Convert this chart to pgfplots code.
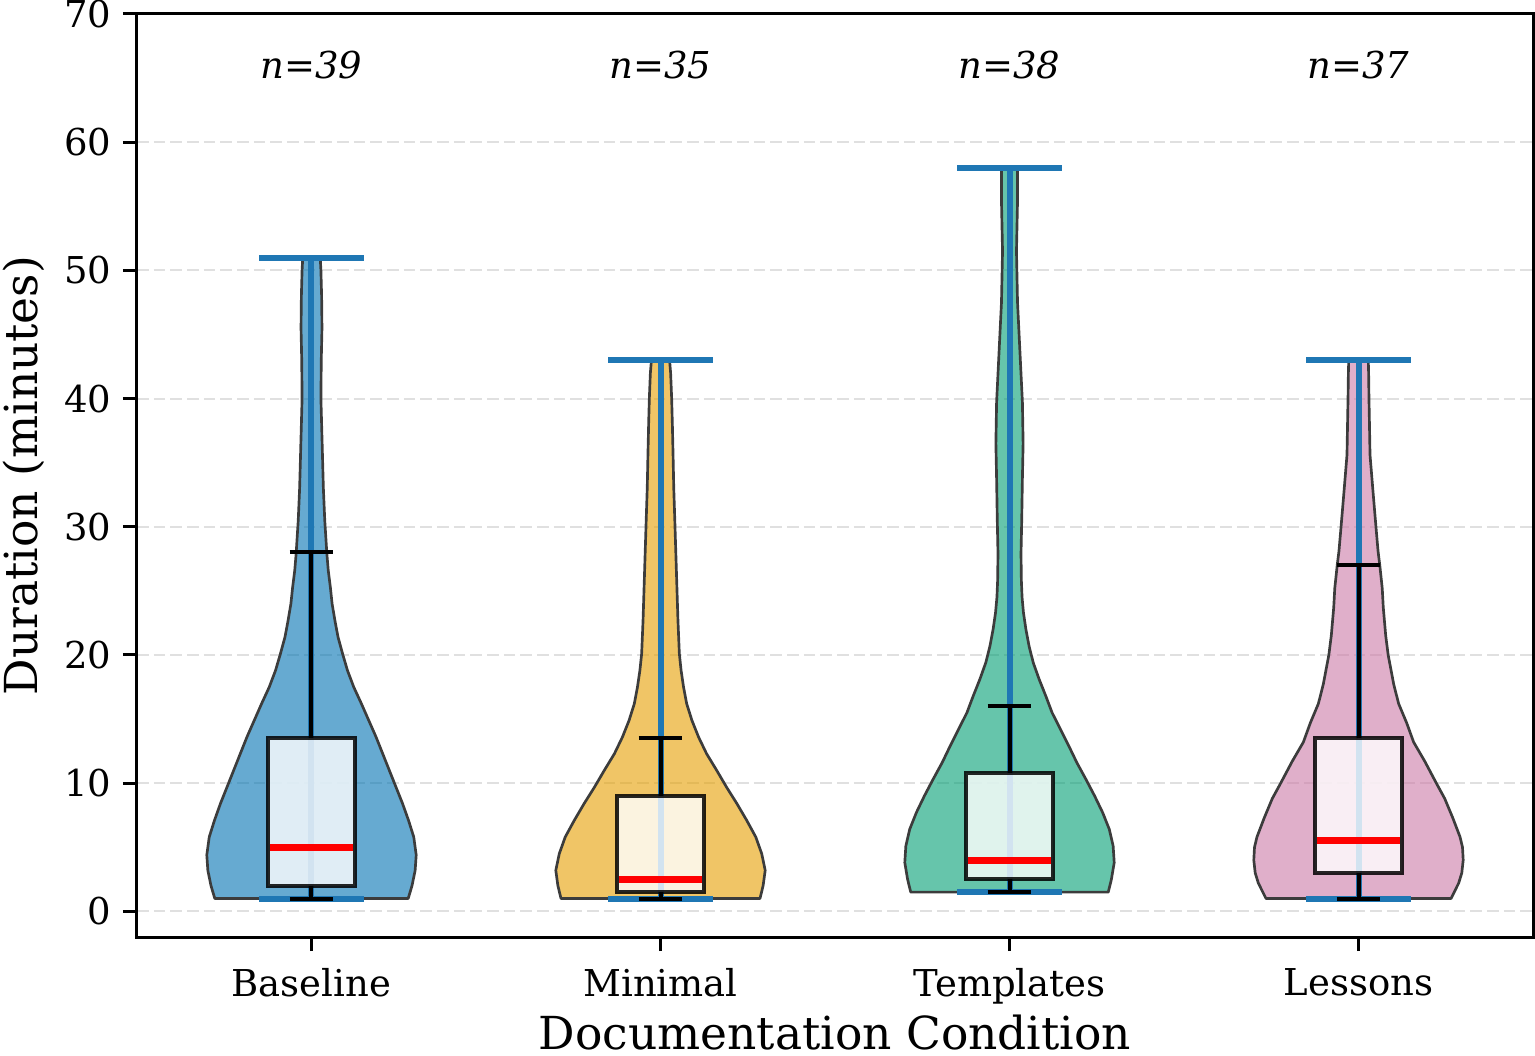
\documentclass[border=0pt]{standalone}
\usepackage{pgfplots}
\pgfplotsset{compat=1.18}
\usepackage{pgfplotstable}
\usepackage{fontspec}
\setmainfont{DejaVu Serif}

\definecolor{cBase}{HTML}{0072B2}
\definecolor{cMin}{HTML}{E69F00}
\definecolor{cTpl}{HTML}{009E73}
\definecolor{cLes}{HTML}{CC79A7}
\definecolor{tabblue}{HTML}{1F77B4}
\definecolor{gridgray}{RGB}{224,224,224}
\definecolor{edgegray}{RGB}{60,60,60}

% Violin half-width profiles (minutes, half width in category units);
% the first and last rows close each half on the centre line.
\pgfplotstableread{
y w
1.0 0
1.0 0.277
2.0 0.288
3.2 0.297
4.4 0.300
5.8 0.293
7.1 0.278
8.4 0.261
9.7 0.242
11.0 0.223
12.3 0.204
13.6 0.185
14.9 0.164
16.2 0.143
17.5 0.121
18.8 0.103
20.1 0.089
21.4 0.076
22.7 0.067
24.0 0.059
25.3 0.054
26.6 0.048
27.9 0.044
29.2 0.041
30.5 0.038
33.0 0.034
36.0 0.031
40.0 0.027
43.0 0.028
45.5 0.030
48.0 0.029
50.0 0.027
51.0 0.025
51.0 0
}\vBaseline

\pgfplotstableread{
y w
1.0 0
1.0 0.285
2.0 0.294
3.2 0.300
4.5 0.290
5.8 0.273
7.1 0.247
8.4 0.219
9.7 0.189
11.0 0.161
12.3 0.132
13.6 0.109
14.9 0.090
16.2 0.075
17.5 0.066
18.8 0.059
20.1 0.054
22.7 0.050
25.3 0.047
27.9 0.044
30.5 0.041
33.0 0.038
35.6 0.036
38.0 0.034
40.0 0.032
42.0 0.029
43.0 0.026
43.0 0
}\vMinimal

\pgfplotstableread{
y w
1.5 0
1.5 0.283
2.5 0.292
3.8 0.300
5.1 0.297
6.4 0.286
7.7 0.267
9.0 0.244
10.3 0.219
11.6 0.193
12.9 0.170
14.2 0.146
15.5 0.122
16.8 0.104
18.1 0.085
19.4 0.068
20.7 0.056
22.0 0.047
23.3 0.040
24.5 0.036
25.8 0.034
27.9 0.033
30.5 0.035
33.8 0.037
36.5 0.039
39.7 0.037
43.6 0.030
47.5 0.023
51.5 0.020
55.4 0.023
58.0 0.023
58.0 0
}\vTemplates

\pgfplotstableread{
y w
1.0 0
1.0 0.265
2.2 0.287
3.0 0.296
4.0 0.300
5.0 0.298
5.8 0.291
7.3 0.270
8.8 0.247
10.0 0.223
11.7 0.190
13.2 0.158
14.7 0.138
16.2 0.115
17.7 0.101
20.0 0.085
21.5 0.078
23.7 0.071
25.2 0.068
27.0 0.061
28.1 0.056
30.0 0.050
32.6 0.042
35.6 0.033
38.6 0.031
40.0 0.030
42.0 0.029
43.0 0.028
43.0 0
}\vLessons

\pgfplotsset{
  violin/.style={fill=#1, fill opacity=0.6, draw=edgegray, line width=0.8pt, line join=round},
  rangeline/.style={tabblue, line width=1.8pt},
  iqrbox/.style={fill=white, fill opacity=0.8, draw=black, draw opacity=0.85, line width=1.2pt},
  whisker/.style={black, line width=1.2pt},
  medianline/.style={red, line width=2.1pt},
}

\begin{document}
\begin{tikzpicture}
\begin{axis}[
  at={(0pt,0pt)}, anchor=south west,
  width=418.8pt, height=276.9pt, scale only axis,
  xmin=-0.5, xmax=3.5, ymin=-2, ymax=70,
  xtick={0,1,2,3},
  xticklabels={Baseline,Minimal,Templates,Lessons},
  ytick={0,10,...,70},
  tick pos=left,
  tick align=outside, major tick length=4.2pt,
  tick style={black, line width=0.9pt},
  axis line style={black, line width=0.9pt},
  ymajorgrids,
  grid style={gridgray, line width=0.6pt, dash pattern=on 3.5pt off 1.5pt},
  ticklabel style={font=\fontsize{11.1}{13}\selectfont},
  xticklabel style={yshift=-1.8pt},
  /pgf/number format/assume math mode=true,
  xlabel={Documentation Condition},
  ylabel={Duration (minutes)},
  label style={font=\fontsize{13.65}{16}\selectfont},
  xlabel style={at={([yshift=-33.6pt]axis description cs:0.5,0)}, anchor=base},
  ylabel style={at={([xshift=-29.7pt]axis description cs:0,0.5)}, anchor=base},
]

% --- Baseline ---
\addplot[violin=cBase] table[x expr=0+\thisrow{w}, y=y] {\vBaseline};
\addplot[violin=cBase] table[x expr=0-\thisrow{w}, y=y] {\vBaseline};
\addplot[rangeline] coordinates {(0,1) (0,51)};
\addplot[rangeline] coordinates {(-0.15,51) (0.15,51)};
\addplot[rangeline] coordinates {(-0.15,1) (0.15,1)};
\addplot[iqrbox] coordinates {(-0.125,2) (0.125,2) (0.125,13.5) (-0.125,13.5)} -- cycle;
\addplot[whisker] coordinates {(0,13.5) (0,28)};
\addplot[whisker] coordinates {(0,2) (0,1)};
\addplot[whisker] coordinates {(-0.0625,28) (0.0625,28)};
\addplot[whisker] coordinates {(-0.0625,1) (0.0625,1)};
\addplot[medianline] coordinates {(-0.12,5) (0.12,5)};

% --- Minimal ---
\addplot[violin=cMin] table[x expr=1+\thisrow{w}, y=y] {\vMinimal};
\addplot[violin=cMin] table[x expr=1-\thisrow{w}, y=y] {\vMinimal};
\addplot[rangeline] coordinates {(1,1) (1,43)};
\addplot[rangeline] coordinates {(0.85,43) (1.15,43)};
\addplot[rangeline] coordinates {(0.85,1) (1.15,1)};
\addplot[iqrbox] coordinates {(0.875,1.5) (1.125,1.5) (1.125,9) (0.875,9)} -- cycle;
\addplot[whisker] coordinates {(1,9) (1,13.5)};
\addplot[whisker] coordinates {(1,1.5) (1,1)};
\addplot[whisker] coordinates {(0.9375,13.5) (1.0625,13.5)};
\addplot[whisker] coordinates {(0.9375,1) (1.0625,1)};
\addplot[medianline] coordinates {(0.88,2.5) (1.12,2.5)};

% --- Templates ---
\addplot[violin=cTpl] table[x expr=2+\thisrow{w}, y=y] {\vTemplates};
\addplot[violin=cTpl] table[x expr=2-\thisrow{w}, y=y] {\vTemplates};
\addplot[rangeline] coordinates {(2,1.5) (2,58)};
\addplot[rangeline] coordinates {(1.85,58) (2.15,58)};
\addplot[rangeline] coordinates {(1.85,1.5) (2.15,1.5)};
\addplot[iqrbox] coordinates {(1.875,2.5) (2.125,2.5) (2.125,10.8) (1.875,10.8)} -- cycle;
\addplot[whisker] coordinates {(2,10.8) (2,16)};
\addplot[whisker] coordinates {(2,2.5) (2,1.5)};
\addplot[whisker] coordinates {(1.9375,16) (2.0625,16)};
\addplot[whisker] coordinates {(1.9375,1.5) (2.0625,1.5)};
\addplot[medianline] coordinates {(1.88,4) (2.12,4)};

% --- Lessons ---
\addplot[violin=cLes] table[x expr=3+\thisrow{w}, y=y] {\vLessons};
\addplot[violin=cLes] table[x expr=3-\thisrow{w}, y=y] {\vLessons};
\addplot[rangeline] coordinates {(3,1) (3,43)};
\addplot[rangeline] coordinates {(2.85,43) (3.15,43)};
\addplot[rangeline] coordinates {(2.85,1) (3.15,1)};
\addplot[iqrbox] coordinates {(2.875,3) (3.125,3) (3.125,13.5) (2.875,13.5)} -- cycle;
\addplot[whisker] coordinates {(3,13.5) (3,27)};
\addplot[whisker] coordinates {(3,3) (3,1)};
\addplot[whisker] coordinates {(2.9375,27) (3.0625,27)};
\addplot[whisker] coordinates {(2.9375,1) (3.0625,1)};
\addplot[medianline] coordinates {(2.88,5.5) (3.12,5.5)};

% group sizes
\begin{scope}[every node/.style={anchor=base, font=\fontsize{11.1}{13}\selectfont\itshape}]
\node at (axis cs:0,65) {n=39};
\node at (axis cs:1,65) {n=35};
\node at (axis cs:2,65) {n=38};
\node at (axis cs:3,65) {n=37};
\end{scope}
\end{axis}
\pgfresetboundingbox
\path (-41.1pt,-35.4pt) rectangle (419.4pt,281.1pt);
\end{tikzpicture}
\end{document}
